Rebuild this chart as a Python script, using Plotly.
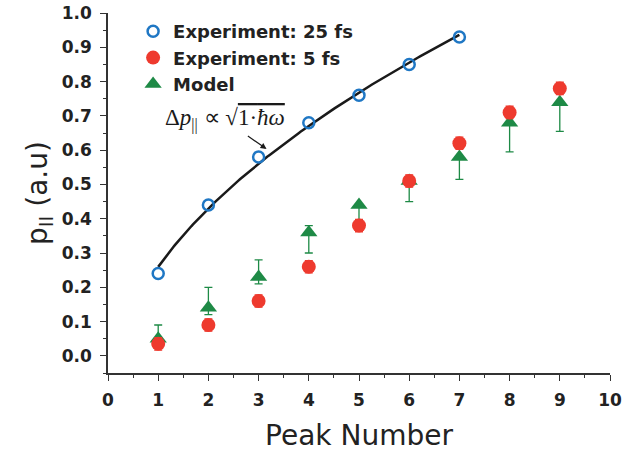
import numpy as np
import plotly.graph_objects as go

# Data
x25 = [1, 2, 3, 4, 5, 6, 7]
y25 = [0.24, 0.44, 0.58, 0.68, 0.76, 0.85, 0.93]

x5 = [1, 2, 3, 4, 5, 6, 7, 8, 9]
y5 = [0.035, 0.09, 0.16, 0.26, 0.38, 0.51, 0.62, 0.71, 0.78]
e5 = [0.018, 0.018, 0.018, 0.018, 0.018, 0.018, 0.018, 0.018, 0.018]

xm = [1, 2, 3, 4, 5, 6, 7, 8, 9]
ym = [0.05, 0.14, 0.23, 0.36, 0.44, 0.51, 0.58, 0.68, 0.74]
em_up = [0.04, 0.06, 0.05, 0.02, 0.0, 0.01, 0.0, 0.0, 0.0]
em_dn = [0.02, 0.02, 0.02, 0.06, 0.06, 0.06, 0.065, 0.085, 0.085]

xticks = [0, 1, 2, 3, 4, 5, 6, 7, 8, 9, 10]
yticks = [0.0, 0.1, 0.2, 0.3, 0.4, 0.5, 0.6, 0.7, 0.8, 0.9, 1.0]

# sqrt fit to the 25 fs data
A = np.vstack([np.sqrt(x25), np.ones(len(x25))]).T
a, b = np.linalg.lstsq(A, np.array(y25), rcond=None)[0]
xf = np.linspace(1, 7, 200)
yf = a * np.sqrt(xf) + b

BLUE = "#1f77c4"
RED = "#ee3a2e"
GREEN = "#1e8a46"

fig = go.Figure()
fig.add_trace(go.Scatter(x=xf, y=yf, mode="lines", line=dict(color="#1a1a1a", width=2.5),
                         showlegend=False, hoverinfo="skip"))
fig.add_trace(go.Scatter(
    x=xm, y=ym, mode="markers", name="Model",
    marker=dict(symbol="triangle-up", size=15, color=GREEN),
    error_y=dict(type="data", symmetric=False, array=em_up, arrayminus=em_dn,
                 color=GREEN, thickness=1.3, width=4)))
fig.add_trace(go.Scatter(
    x=x5, y=y5, mode="markers", name="Experiment: 5 fs",
    marker=dict(symbol="circle", size=14, color=RED),
    error_y=dict(type="data", array=e5, color=RED, thickness=1.3, width=4)))
fig.add_trace(go.Scatter(
    x=x25, y=y25, mode="markers", name="Experiment: 25 fs",
    marker=dict(symbol="circle-open", size=11, color=BLUE, line=dict(width=2.5, color=BLUE))))

fig.add_annotation(
    x=3.19, y=0.60, xref="x", yref="y",
    ax=2.33, ay=0.688, axref="x", ayref="y",
    text="Δ<i>p</i><sub>||</sub> ∝ √<span style='text-decoration:overline'>1·<i>ħω</i></span>",
    showarrow=True, arrowhead=2, arrowsize=1, arrowwidth=1.2, arrowcolor="#1a1a1a",
    font=dict(family="Liberation Serif, Times New Roman, serif", size=23, color="#1a1a1a"),
    standoff=2)

tickfont = dict(family="DejaVu Sans", size=17, color="#222222", weight="bold")
fig.update_layout(
    width=639, height=456,
    margin=dict(l=108, r=29, t=13, b=83, autoexpand=False),
    plot_bgcolor="white", paper_bgcolor="white",
    font=dict(family="DejaVu Sans", color="#222222"),
    legend=dict(x=0.05, y=1.0, xanchor="left", yanchor="top",
                bgcolor="rgba(0,0,0,0)", traceorder="reversed",
                font=dict(family="DejaVu Sans", size=18, color="#222222", weight="bold"),
                itemwidth=30, tracegroupgap=0),
    xaxis=dict(range=[0, 10], tickvals=xticks, ticks="outside", ticklen=6, tickwidth=1.3,
               tickcolor="#333", showline=True, linecolor="#333", linewidth=1.5,
               showgrid=False, zeroline=False, tickfont=tickfont, automargin=False,
               ticklabelstandoff=5,
               minor=dict(dtick=0.5, ticks="outside", ticklen=3, tickcolor="#333", showgrid=False),
               title=dict(text="Peak Number", font=dict(family="DejaVu Sans", size=28, color="#222222"),
                          standoff=16)),
    yaxis=dict(range=[-0.05, 1.0], tickvals=yticks, tickformat=".1f", ticks="outside", ticklen=6,
               tickwidth=1.3, tickcolor="#333", showline=True, linecolor="#333", linewidth=1.5,
               showgrid=False, zeroline=False, tickfont=tickfont, automargin=False,
               ticklabelstandoff=5,
               minor=dict(dtick=0.05, tick0=0, ticks="outside", ticklen=3, tickcolor="#333", showgrid=False),
               title=dict(text="p<sub>II</sub> (a.u)", font=dict(family="DejaVu Sans", size=28, color="#222222"),
                          standoff=6)),
)
fig.write_html("out.html")
